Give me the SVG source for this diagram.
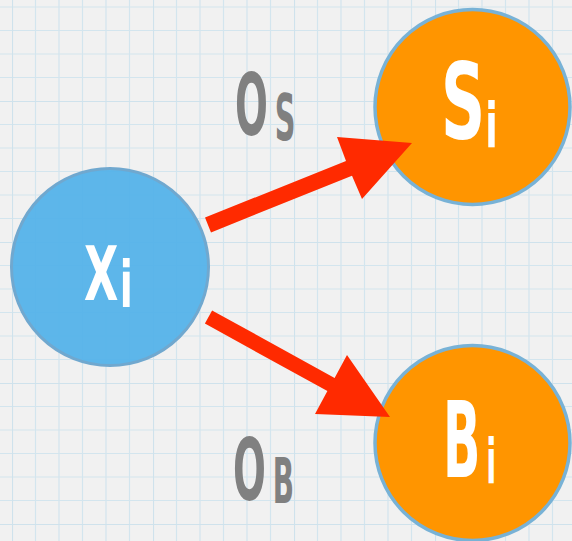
<svg xmlns="http://www.w3.org/2000/svg" width="572" height="541" viewBox="0 0 572 541">
<defs>
<pattern id="grid" patternUnits="userSpaceOnUse" x="12" y="101" width="141" height="141">
<g stroke="#d3e5ee" stroke-width="1.2" fill="none">
<path d="M23.5 0V141M47 0V141M70.5 0V141M94 0V141M117.5 0V141M0 23.5H141M0 47H141M0 70.5H141M0 94H141M0 117.5H141"/>
</g>
<g stroke="#cfe2ec" stroke-width="2.2" fill="none">
<path d="M0 0V141M0 0H141"/>
</g>
</pattern>
<style>
.lbl{font-family:"DejaVu Sans Condensed","DejaVu Sans",sans-serif;font-weight:bold;}
.w{fill:#ffffff;}
.g{fill:#808080;}
.orange{fill:#ff9500;stroke:#78b2d6;stroke-width:3.5;}
.blue{fill:#52b2ea;fill-opacity:0.93;stroke:#70a8cf;stroke-width:3;}
.arrow{fill:#ff2a00;}
</style>
</defs>
<rect width="572" height="541" fill="#f1f1f1"/>
<rect width="572" height="541" fill="url(#grid)"/>
<g id="node-xi">
<circle class="blue" cx="110" cy="267" r="98.5"/>
<text class="lbl w" transform="translate(84,300) scale(0.66,1)" font-size="75">X<tspan font-size="64" dx="2" dy="7">i</tspan></text>
</g>
<g id="node-si">
<circle class="orange" cx="472.5" cy="107" r="97.5"/>
<text class="lbl w" transform="translate(441,139) scale(0.65,1)" font-size="105">S<tspan font-size="62" dy="8">i</tspan></text>
</g>
<g id="node-bi">
<circle class="orange" cx="472.5" cy="443" r="97.5"/>
<text class="lbl w" transform="translate(443,477) scale(0.52,1)" font-size="105">B<tspan font-size="62" dx="11" dy="6">i</tspan></text>
</g>
<g id="connectors">
<polygon class="arrow" points="205,217.6 346,160.9 337,137 412,143 362,199 352,175.7 211,232.4"/>
<polygon class="arrow" points="212.1,310.4 334.6,377.9 347,355 390,417 315,414 327.4,391.1 204.9,323.6"/>
<g id="label-os">
<text class="lbl g" transform="translate(235,135) scale(0.5,1)" font-size="86">O<tspan font-size="64" dx="14" dy="5">S</tspan></text>
</g>
<g id="label-ob">
<text class="lbl g" transform="translate(233,500) scale(0.5,1)" font-size="86">O<tspan font-size="62" dx="14" dy="3">B</tspan></text>
</g>
</g>
</svg>
